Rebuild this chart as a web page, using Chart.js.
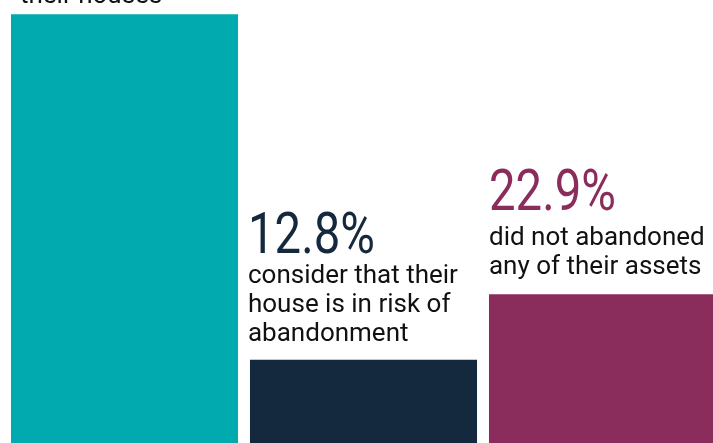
<!DOCTYPE html>
<html>
<head>
<meta charset="utf-8" />
<script src="https://cdn.jsdelivr.net/npm/chart.js@4"></script>
<style>
  html, body { margin: 0; padding: 0; overflow: hidden; background: #fff; }
  #chartDiv { display: block; }
</style>
</head>
<body>
<canvas id="chartDiv" width="722" height="443"></canvas>
<script>
const categories = ["abandoned houses", "risk of abandonment", "no assets abandoned"];
const shares = [66.0, 12.8, 22.9];
const shareLabels = ["66.0%", "12.8%", "22.9%"];
const descLines = [
  ["abandoned", "their houses"],
  ["consider that their", "house is in risk of", "abandonment"],
  ["did not abandoned", "any of their assets"],
];
const barColors = ["#00aaae", "#14283e", "#8a2c5c"];

const labelGap = [11, 19, 20];
const numberGap = [31, 30, 35];
const textShift = [9, -2, 0];

const labelPlugin = {
  id: "bigLabels",
  afterDatasetsDraw: (chart) => {
    const ctx = chart.ctx;
    const bars = chart.getDatasetMeta(0).data;
    bars.forEach((bar, i) => {
      const left = bar.x - bar.width / 2 + textShift[i];
      const lines = descLines[i];
      let base = bar.y - labelGap[i];
      ctx.save();
      ctx.fillStyle = "#111111";
      ctx.font = "400 26px Roboto";
      ctx.textBaseline = "alphabetic";
      ctx.textAlign = "left";
      for (let k = lines.length - 1; k >= 0; k--) {
        ctx.fillText(lines[k], left, base);
        if (k > 0) base -= 29;
      }
      // big percentage, squeezed to look condensed
      const numBase = base - numberGap[i];
      ctx.fillStyle = barColors[i];
      ctx.font = "400 57px Roboto";
      ctx.translate(left, numBase);
      ctx.scale(0.83, 1);
      ctx.fillText(shareLabels[i], 0, 0);
      ctx.restore();
    });
  },
};

const ctx = document.getElementById("chartDiv");
const chart = new Chart(ctx, {
  type: "bar",
  data: {
    labels: categories,
    datasets: [
      {
        data: shares,
        backgroundColor: barColors,
        borderWidth: 0,
        barPercentage: 0.95,
        categoryPercentage: 1,
      },
    ],
  },
  options: {
    responsive: false,
    animation: false,
    layout: { padding: { left: 5, right: 0, top: 0, bottom: 0 } },
    plugins: {
      legend: { display: false },
      tooltip: { enabled: false },
    },
    scales: {
      x: { display: false },
      y: { display: false, min: 0, max: 68.2 },
    },
  },
  plugins: [labelPlugin],
});
</script>
</body>
</html>
